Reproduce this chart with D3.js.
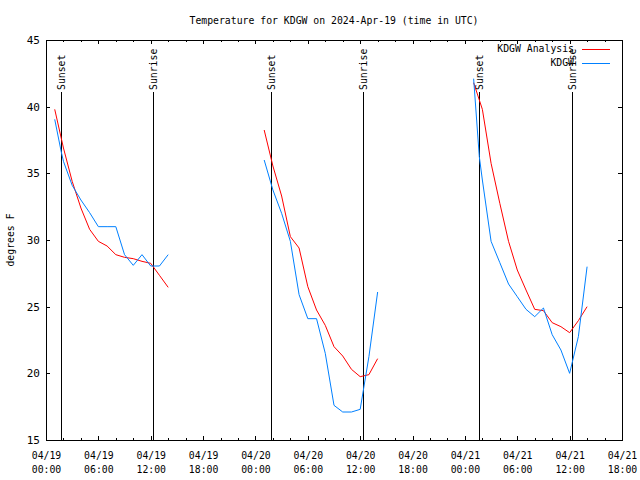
<!DOCTYPE html>
<html>
<head>
<meta charset="utf-8">
<script src="https://cdn.jsdelivr.net/npm/d3@7"></script>
<style>
  html, body { margin: 0; padding: 0; background: #fff; }
  svg { display: block; }
  text { font-family: "DejaVu Sans Mono", "Liberation Mono", monospace; font-size: 9.8px; fill: #000; }
</style>
</head>
<body>
<svg id="chart" width="640" height="480"></svg>
<script>
// ---- data ----
const title = "Temperature for KDGW on 2024-Apr-19 (time in UTC)";
const yLabel = "degrees F";
const seriesNames = ["KDGW Analysis", "KDGW"];
const seriesColors = ["#ff0000", "#0080ff"];

// Analysis (hourly), three nights
const analysisTimes = [
  "2024-04-19T01:00Z","2024-04-19T02:00Z","2024-04-19T03:00Z","2024-04-19T04:00Z","2024-04-19T05:00Z","2024-04-19T06:00Z","2024-04-19T07:00Z",
  "2024-04-19T08:00Z","2024-04-19T09:00Z","2024-04-19T10:00Z","2024-04-19T11:00Z","2024-04-19T12:00Z","2024-04-19T13:00Z","2024-04-19T14:00Z",
  null,
  "2024-04-20T01:00Z","2024-04-20T02:00Z","2024-04-20T03:00Z","2024-04-20T04:00Z","2024-04-20T05:00Z","2024-04-20T06:00Z","2024-04-20T07:00Z",
  "2024-04-20T08:00Z","2024-04-20T09:00Z","2024-04-20T10:00Z","2024-04-20T11:00Z","2024-04-20T12:00Z","2024-04-20T13:00Z","2024-04-20T14:00Z",
  null,
  "2024-04-21T01:00Z","2024-04-21T02:00Z","2024-04-21T03:00Z","2024-04-21T04:00Z","2024-04-21T05:00Z","2024-04-21T06:00Z","2024-04-21T07:00Z",
  "2024-04-21T08:00Z","2024-04-21T09:00Z","2024-04-21T10:00Z","2024-04-21T11:00Z","2024-04-21T12:00Z","2024-04-21T13:00Z","2024-04-21T14:00Z"
];
const analysisTemps = [
  39.8, 36.9, 34.4, 32.4, 30.8, 29.9, 29.55, 28.9, 28.7, 28.6, 28.4, 28.25, 27.35, 26.45,
  null,
  38.25, 35.55, 33.3, 30.25, 29.4, 26.5, 24.75, 23.6, 22.0, 21.3, 20.3, 19.75, 19.9, 21.1,
  null,
  41.8, 39.8, 35.75, 32.75, 29.9, 27.75, 26.25, 24.8, 24.7, 23.8, 23.5, 23.05, 23.95, 25.0
];

// Observations
const obsTimes = [
  "2024-04-19T01:00Z","2024-04-19T01:45Z","2024-04-19T02:00Z","2024-04-19T03:00Z","2024-04-19T04:00Z","2024-04-19T05:00Z","2024-04-19T06:00Z","2024-04-19T07:00Z",
  "2024-04-19T08:00Z","2024-04-19T09:00Z","2024-04-19T10:00Z","2024-04-19T11:00Z","2024-04-19T12:00Z","2024-04-19T13:00Z","2024-04-19T14:00Z",
  null,
  "2024-04-20T01:00Z","2024-04-20T02:00Z","2024-04-20T03:00Z","2024-04-20T04:00Z","2024-04-20T05:00Z","2024-04-20T06:00Z","2024-04-20T07:00Z",
  "2024-04-20T08:00Z","2024-04-20T09:00Z","2024-04-20T10:00Z","2024-04-20T11:00Z","2024-04-20T12:00Z","2024-04-20T13:00Z","2024-04-20T14:00Z",
  null,
  "2024-04-21T01:00Z","2024-04-21T01:39Z","2024-04-21T02:00Z","2024-04-21T03:00Z","2024-04-21T04:00Z","2024-04-21T05:00Z","2024-04-21T06:00Z","2024-04-21T07:00Z",
  "2024-04-21T08:00Z","2024-04-21T09:00Z","2024-04-21T10:00Z","2024-04-21T11:00Z","2024-04-21T12:00Z","2024-04-21T13:00Z","2024-04-21T14:00Z"
];
const obsTemps = [
  39.05, 36.6, 35.9, 34.1, 33.0, 32.05, 31.0, 31.0, 31.0, 28.9, 28.1, 28.9, 28.05, 28.05, 28.9,
  null,
  36.0, 33.75, 32.0, 29.9, 25.9, 24.1, 24.1, 21.5, 17.6, 17.1, 17.1, 17.3, 21.25, 26.1,
  null,
  42.1, 36.25, 34.5, 29.9, 28.3, 26.7, 25.75, 24.8, 24.25, 24.9, 22.9, 21.75, 20.0, 22.75, 28.0
];

const sunEventTimes = ["2024-04-19T01:46Z","2024-04-19T12:17Z","2024-04-20T01:47Z","2024-04-20T12:16Z","2024-04-21T01:40Z","2024-04-21T12:14Z"];
const sunEventLabels = ["Sunset","Sunrise","Sunset","Sunrise","Sunset","Sunrise"];

const xDomain = ["2024-04-19T00:00Z", "2024-04-21T18:00Z"];
const yDomain = [15, 45];
const yTickValues = [15, 20, 25, 30, 35, 40, 45];

// ---- layout ----
const L = 46, R = 622, T = 40, B = 440;
const svg = d3.select("#chart");
const parse = s => s == null ? null : new Date(s);

const x = d3.scaleUtc().domain(xDomain.map(parse)).range([L, R]);
const y = d3.scaleLinear().domain(yDomain).range([B, T]);

const majorTicks = d3.utcHour.every(6).range(x.domain()[0], new Date(+x.domain()[1] + 1));
const minorTicks = d3.utcHour.every(2).range(x.domain()[0], new Date(+x.domain()[1] + 1));

// ticks (bottom + top mirror)
const tickG = svg.append("g").attr("shape-rendering", "crispEdges").attr("stroke", "#000").attr("stroke-width", 1);
minorTicks.forEach(d => {
  const major = d.getUTCHours() % 6 === 0;
  const len = major ? 4 : 2;
  const xx = Math.round(x(d)) + 0.5;
  tickG.append("line").attr("x1", xx).attr("x2", xx).attr("y1", B).attr("y2", B - len);
  tickG.append("line").attr("x1", xx).attr("x2", xx).attr("y1", T).attr("y2", T + len);
});
yTickValues.forEach(v => {
  const yy = Math.round(y(v)) + 0.5;
  tickG.append("line").attr("x1", L).attr("x2", L + 4).attr("y1", yy).attr("y2", yy);
  tickG.append("line").attr("x1", R).attr("x2", R - 4).attr("y1", yy).attr("y2", yy);
});

// y axis labels via d3 axis (domain hidden, labels only)
const yAxis = d3.axisLeft(y).tickValues(yTickValues).tickSize(0).tickPadding(6).tickFormat(d3.format("d"));
const yG = svg.append("g").attr("transform", `translate(${L},0)`).call(yAxis);
yG.select(".domain").remove();
yG.selectAll("text").style("font-family", null).style("font-size", null).attr("font-family", null).attr("font-size", null)
  .style("font-size", "11px").style("font-family", "'DejaVu Sans Mono', monospace");

// x axis labels (two lines)
const xAxis = d3.axisBottom(x).tickValues(majorTicks).tickSize(0).tickPadding(0).tickFormat("");
const xG = svg.append("g").attr("transform", `translate(0,${B})`).call(xAxis);
xG.select(".domain").remove();
xG.selectAll(".tick").each(function(d) {
  const g = d3.select(this);
  g.append("text").attr("y", 18.5).attr("text-anchor", "middle").attr("fill", "#000").text(d3.utcFormat("%m/%d")(d));
  g.append("text").attr("y", 32.5).attr("text-anchor", "middle").attr("fill", "#000").text(d3.utcFormat("%H:%M")(d));
});
xG.attr("font-family", null).attr("font-size", null);

// sun event lines + labels
const sunG = svg.append("g");
sunEventTimes.forEach((s, i) => {
  const xx = Math.round(x(parse(s))) + 0.5;
  sunG.append("line").attr("x1", xx).attr("x2", xx).attr("y1", 92).attr("y2", B)
    .attr("stroke", "#000").attr("stroke-width", 1).attr("shape-rendering", "crispEdges");
  sunG.append("text").attr("transform", `translate(${xx},90) rotate(-90)`).attr("dy", "0.35em")
    .attr("text-anchor", "start").text(sunEventLabels[i]);
});

// data lines
function makeSeries(times, temps) {
  return times.map((t, i) => ({ t: parse(t), v: temps[i] }));
}
const line = d3.line().defined(d => d.t != null && d.v != null).x(d => x(d.t)).y(d => y(d.v));
const dataG = svg.append("g").attr("fill", "none").attr("stroke-width", 1);
dataG.append("path").datum(makeSeries(analysisTimes, analysisTemps)).attr("d", line).attr("stroke", seriesColors[0]);
dataG.append("path").datum(makeSeries(obsTimes, obsTemps)).attr("d", line).attr("stroke", seriesColors[1]);

// frame
svg.append("rect").attr("x", L + 0.5).attr("y", T + 0.5).attr("width", R - L).attr("height", B - T)
  .attr("fill", "none").attr("stroke", "#000").attr("stroke-width", 1).attr("shape-rendering", "crispEdges");

// title
svg.append("text").attr("x", (L + R) / 2).attr("y", 23.5).attr("text-anchor", "middle").text(title);

// y label
svg.append("text").attr("transform", `translate(11,${(T + B) / 2}) rotate(-90)`).attr("dy", "0.35em")
  .attr("text-anchor", "middle").text(yLabel);

// legend
const legendY = [49, 62.5];
seriesNames.forEach((n, i) => {
  svg.append("text").attr("x", 574).attr("y", legendY[i]).attr("dy", "0.35em").attr("text-anchor", "end").text(n);
  svg.append("line").attr("x1", 582).attr("x2", 610).attr("y1", Math.round(legendY[i]) + 0.5).attr("y2", Math.round(legendY[i]) + 0.5)
    .attr("stroke", seriesColors[i]).attr("stroke-width", 1).attr("shape-rendering", "crispEdges");
});
</script>
</body>
</html>
